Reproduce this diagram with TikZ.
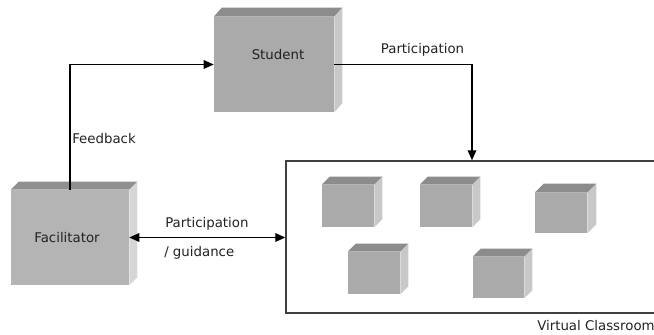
\documentclass[tikz,border=0pt]{standalone}
\usepackage{fontspec}
\setmainfont{DejaVu Sans}
\usetikzlibrary{arrows.meta,calc}
\definecolor{frontg}{HTML}{AAAAAA}
\definecolor{topg}{HTML}{8C8C8C}
\definecolor{sideg}{HTML}{C8C8C8}
\definecolor{ffront}{HTML}{B4B4B4}
\definecolor{ftop}{HTML}{909090}
\definecolor{fside}{HTML}{D6D6D6}
\definecolor{txt}{HTML}{222222}
\definecolor{border}{HTML}{404040}
\newcommand\cubefaces[5]{%
  \fill[#2] (#1.north west) -- ++(#4,#5) -- ($(#1.north east)+(#4,#5)$) -- (#1.north east) -- cycle;
  \fill[#3] (#1.north east) -- ++(#4,#5) -- ($(#1.south east)+(#4,#5)$) -- (#1.south east) -- cycle;}
\begin{document}
\begin{tikzpicture}[x=0.75pt,y=-0.75pt,
  every node/.style={font=\fontsize{10}{12}\selectfont, text=txt},
  box/.style={fill=frontg, inner sep=0pt, draw=none},
  lbl/.style={inner sep=0pt},
  arr/.style={line width=0.8pt, -{Triangle[length=7.5pt,width=6.5pt]}},
  arrtwo/.style={line width=0.8pt, {Triangle[length=7.5pt,width=6.5pt]}-{Triangle[length=7.5pt,width=6.5pt]}}]
\useasboundingbox (0,0) rectangle (654,335);
% Virtual classroom
\node[draw=border, line width=1.1pt, minimum width={372*0.75pt}, minimum height={152*0.75pt}, inner sep=0pt] (classroom) at (472,237) {};
\node[lbl, anchor=west] (vclbl) at (537,326) {Virtual Classroom};
% Student
\node[box, minimum width={120*0.75pt}, minimum height={95*0.75pt}] (student) at (274,64.5) {};
\cubefaces{student}{topg}{sideg}{8}{-9}
\node[lbl] (studentlbl) at (278,55) {Student};
% Facilitator
\node[box, fill=ffront, minimum width={118*0.75pt}, minimum height={95*0.75pt}] (facilitator) at (70,237.5) {};
\cubefaces{facilitator}{ftop}{fside}{8}{-8}
\node[lbl] (faclbl) at (67,238) {Facilitator};
% small cubes
\node[box, minimum width={52*0.75pt}, minimum height={42*0.75pt}] (c1) at (348,206) {};
\cubefaces{c1}{topg}{sideg}{8}{-8}
\node[box, minimum width={52*0.75pt}, minimum height={42*0.75pt}] (c2) at (446,206) {};
\cubefaces{c2}{topg}{sideg}{8}{-8}
\node[box, minimum width={52*0.75pt}, minimum height={40*0.75pt}] (c3) at (561,213) {};
\cubefaces{c3}{topg}{sideg}{9}{-9}
\node[box, minimum width={52*0.75pt}, minimum height={42*0.75pt}] (c4) at (374,273) {};
\cubefaces{c4}{topg}{sideg}{8}{-8}
\node[box, minimum width={51*0.75pt}, minimum height={41*0.75pt}] (c5) at (498.5,277.5) {};
\cubefaces{c5}{topg}{sideg}{8}{-8}
% connectors
\draw[arr] (facilitator.north) |- (student.west);
\draw[arr] (student.east) -| (classroom.north);
\draw[arrtwo] (facilitator.east) -- (facilitator.east -| classroom.west);
% labels
\node[lbl, anchor=west] (fblbl) at (72,139) {Feedback};
\node[lbl] (partlbl) at (422.5,50) {Participation};
\node[lbl, anchor=west] (pglbl1) at (165,224) {Participation};
\node[lbl, anchor=west] (pglbl2) at (164,252.5) {/ guidance};
\end{tikzpicture}
\end{document}
